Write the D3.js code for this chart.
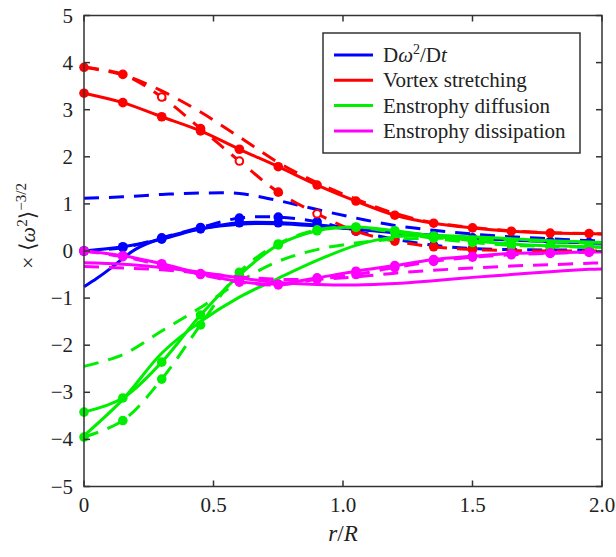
<!DOCTYPE html>
<html><head><meta charset="utf-8">
<script src="https://cdn.jsdelivr.net/npm/d3@7/dist/d3.min.js"></script>
<style>body{margin:0;background:#fff} text{font-family:"Liberation Serif","DejaVu Serif",serif;}</style>
</head><body><svg id="c" width="616" height="557"></svg>
<script>
// ---- data ----
const rGrid = [0,0.15,0.3,0.45,0.6,0.75,0.9,1.05,1.2,1.35,1.5,1.65,1.8,1.95,2.0];
const rBlueSolid = [0,0.05,0.1,0.15,0.2,0.3,0.45,0.6,0.75,0.9,1.05,1.2,1.35,1.5,1.65,1.8,1.95,2.0];
const xTicks = [0,0.5,1.0,1.5,2.0];
const xTickLabels = ["0","0.5","1.0","1.5","2.0"];
const yTicks = [-5,-4,-3,-2,-1,0,1,2,3,4,5];
const legendLabels = ["Dω²/Dt","Vortex stretching","Enstrophy diffusion","Enstrophy dissipation"];

// blue: material derivative
const blueSolid     = [-0.76,-0.58,-0.38,-0.16,0.04,0.27,0.47,0.57,0.58,0.53,0.46,0.39,0.32,0.27,0.23,0.20,0.17,0.17];
const blueSolidDots = [0.0,0.09,0.25,0.47,0.60,0.60,0.55,0.47,0.40,0.33,0.28,0.24,0.20,0.18,0.17];
const blueDashed    = [1.12,1.15,1.20,1.23,1.22,1.07,0.88,0.70,0.54,0.44,0.36,0.30,0.26,0.22,0.21];
const blueDashDots  = [0.0,0.07,0.28,0.50,0.70,0.72,0.62,0.42,0.25,0.12,0.05,0.03,0.02,0.02,0.02];
// red: vortex stretching
const redSolidDots  = [3.35,3.15,2.85,2.55,2.16,1.79,1.40,1.06,0.76,0.59,0.49,0.42,0.38,0.37,0.36];
const redDashed     = [3.90,3.74,3.40,2.95,2.42,1.88,1.45,1.10,0.80,0.60,0.50,0.43,0.39,0.37,0.36];
const redDashDots   = [3.90,3.75,3.27,2.60,1.91,1.25,0.79,0.42,0.21,0.09,0.03,0.01,0.0,0.0,0.0];
// green: enstrophy diffusion
const greenSolid     = [-3.92,-3.15,-2.17,-1.50,-0.98,-0.58,-0.20,0.12,0.30,0.33,0.30,0.26,0.22,0.19,0.18];
const greenSolidDots = [-3.42,-3.12,-2.36,-1.36,-0.51,0.13,0.43,0.51,0.43,0.32,0.22,0.15,0.11,0.09,0.09];
const greenDashed    = [-2.45,-2.20,-1.70,-1.20,-0.65,-0.22,0.03,0.17,0.25,0.27,0.26,0.23,0.20,0.17,0.16];
const greenDashDots  = [-3.95,-3.60,-2.72,-1.57,-0.45,0.15,0.45,0.50,0.40,0.27,0.18,0.12,0.10,0.08,0.08];
// magenta: enstrophy dissipation
const magSolid     = [-0.25,-0.28,-0.35,-0.45,-0.57,-0.67,-0.71,-0.72,-0.69,-0.63,-0.56,-0.50,-0.44,-0.39,-0.38];
const magSolidDots = [0.0,-0.10,-0.27,-0.48,-0.65,-0.70,-0.57,-0.43,-0.31,-0.18,-0.11,-0.05,-0.04,-0.02,-0.02];
const magDashed    = [-0.33,-0.36,-0.40,-0.47,-0.55,-0.60,-0.60,-0.55,-0.47,-0.41,-0.36,-0.32,-0.29,-0.26,-0.25];
const magDashDots  = [0.0,-0.12,-0.30,-0.50,-0.66,-0.72,-0.60,-0.50,-0.35,-0.22,-0.13,-0.08,-0.05,-0.03,-0.03];
const redOpenAt = [0.3,0.6,0.9];

// ---- drawing ----
const svg = d3.select("#c");
const L=84, R=602, T=15.5, B=486.5;
const x = d3.scaleLinear().domain([0,2]).range([L,R]);
const y = d3.scaleLinear().domain([-5,5]).range([B,T]);
const COL = {blue:"#0000ff", red:"#ff0000", green:"#00ee00", mag:"#ff00ff"};

const series = [
  {v:blueDashed, c:COL.blue, dash:true, dots:false},
  {v:blueSolid, r:rBlueSolid, c:COL.blue, dash:false, dots:false},
  {v:blueDashDots, c:COL.blue, dash:true, dots:true},
  {v:blueSolidDots, c:COL.blue, dash:false, dots:true},
  {v:redDashed, c:COL.red, dash:true, dots:false},
  {v:redDashDots, c:COL.red, dash:true, dots:true, open:redOpenAt},
  {v:redSolidDots, c:COL.red, dash:false, dots:true},
  {v:greenDashed, c:COL.green, dash:true, dots:false},
  {v:greenSolid, c:COL.green, dash:false, dots:false},
  {v:greenDashDots, c:COL.green, dash:true, dots:true},
  {v:greenSolidDots, c:COL.green, dash:false, dots:true},
  {v:magDashed, c:COL.mag, dash:true, dots:false},
  {v:magSolid, c:COL.mag, dash:false, dots:false},
  {v:magDashDots, c:COL.mag, dash:true, dots:true},
  {v:magSolidDots, c:COL.mag, dash:false, dots:true},
];

const line = d3.line().x(d=>x(d[0])).y(d=>y(d[1])).curve(d3.curveCatmullRom.alpha(0.5));
const gPlot = svg.append("g");
series.forEach(s=>{
  const rr = s.r || rGrid;
  const pts = rr.map((r,i)=>[r,s.v[i]]);
  gPlot.append("path").attr("d",line(pts)).attr("fill","none")
    .attr("stroke",s.c).attr("stroke-width",3)
    .attr("stroke-dasharray",s.dash?"15,10":null);
  if(s.dots){
    pts.filter(p=>p[0]<1.99).forEach(p=>{
      const open = s.open && s.open.some(o=>Math.abs(o-p[0])<1e-6);
      gPlot.append("circle").attr("cx",x(p[0])).attr("cy",y(p[1])).attr("r",open?3.8:4.8)
        .attr("fill",open?"#fff":s.c).attr("stroke",s.c).attr("stroke-width",open?2:0);
    });
  }
});

// frame & ticks
const ax = svg.append("g").attr("stroke","#333").attr("stroke-width",1.5);
ax.append("rect").attr("x",L).attr("y",T).attr("width",R-L).attr("height",B-T).attr("fill","none");
yTicks.forEach(t=>{
  ax.append("line").attr("x1",L).attr("x2",L+6).attr("y1",y(t)).attr("y2",y(t));
  ax.append("line").attr("x1",R).attr("x2",R-6).attr("y1",y(t)).attr("y2",y(t));
});
xTicks.forEach(t=>{
  ax.append("line").attr("x1",x(t)).attr("x2",x(t)).attr("y1",B).attr("y2",B-6);
  ax.append("line").attr("x1",x(t)).attr("x2",x(t)).attr("y1",T).attr("y2",T+6);
});
yTicks.forEach(t=>{
  svg.append("text").attr("x",L-11).attr("y",y(t)+7).attr("text-anchor","end")
    .attr("font-size",21).attr("fill","#222")
    .text(t<0?"\u2212"+Math.abs(t):String(t));
});
xTicks.forEach((t,i)=>{
  svg.append("text").attr("x",x(t)).attr("y",B+25).attr("text-anchor","middle")
    .attr("font-size",21).attr("fill","#222").text(xTickLabels[i]);
});
// x title
const xt = svg.append("text").attr("x",x(1)).attr("y",541).attr("text-anchor","middle")
  .attr("font-size",23).attr("fill","#222");
xt.append("tspan").attr("font-style","italic").text("r");
xt.append("tspan").text("/");
xt.append("tspan").attr("font-style","italic").text("R");
// y title
const yt = svg.append("text").attr("transform","translate(35,226) rotate(-90)").attr("text-anchor","middle")
  .attr("font-size",22).attr("fill","#222");
yt.append("tspan").text("\u00d7 \u27e8");
yt.append("tspan").attr("font-style","italic").text("\u03c9");
yt.append("tspan").attr("font-size",15).attr("dy",-8).text("2");
yt.append("tspan").attr("dy",8).text("\u27e9");
yt.append("tspan").attr("font-size",15).attr("dy",-9).text("\u22123/2");

// legend
const lg = svg.append("g");
lg.append("rect").attr("x",323).attr("y",33).attr("width",257).attr("height",120)
  .attr("fill","#fff").attr("stroke","#333").attr("stroke-width",1.5);
const lcols=[COL.blue,COL.red,COL.green,COL.mag];
legendLabels.forEach((lab,i)=>{
  const yy = 55 + i*25.3;
  lg.append("line").attr("x1",334).attr("x2",373).attr("y1",yy).attr("y2",yy)
    .attr("stroke",lcols[i]).attr("stroke-width",3);
  const tx = lg.append("text").attr("x",383).attr("y",yy+7)
    .attr("font-size",21).attr("fill","#222");
  if(i===0){
    tx.append("tspan").text("D");
    tx.append("tspan").attr("font-style","italic").text("\u03c9");
    tx.append("tspan").attr("font-size",14).attr("dy",-8).text("2");
    tx.append("tspan").attr("dy",8).text("/D");
    tx.append("tspan").attr("font-style","italic").text("t");
  } else tx.text(lab);
});
</script></body></html>
